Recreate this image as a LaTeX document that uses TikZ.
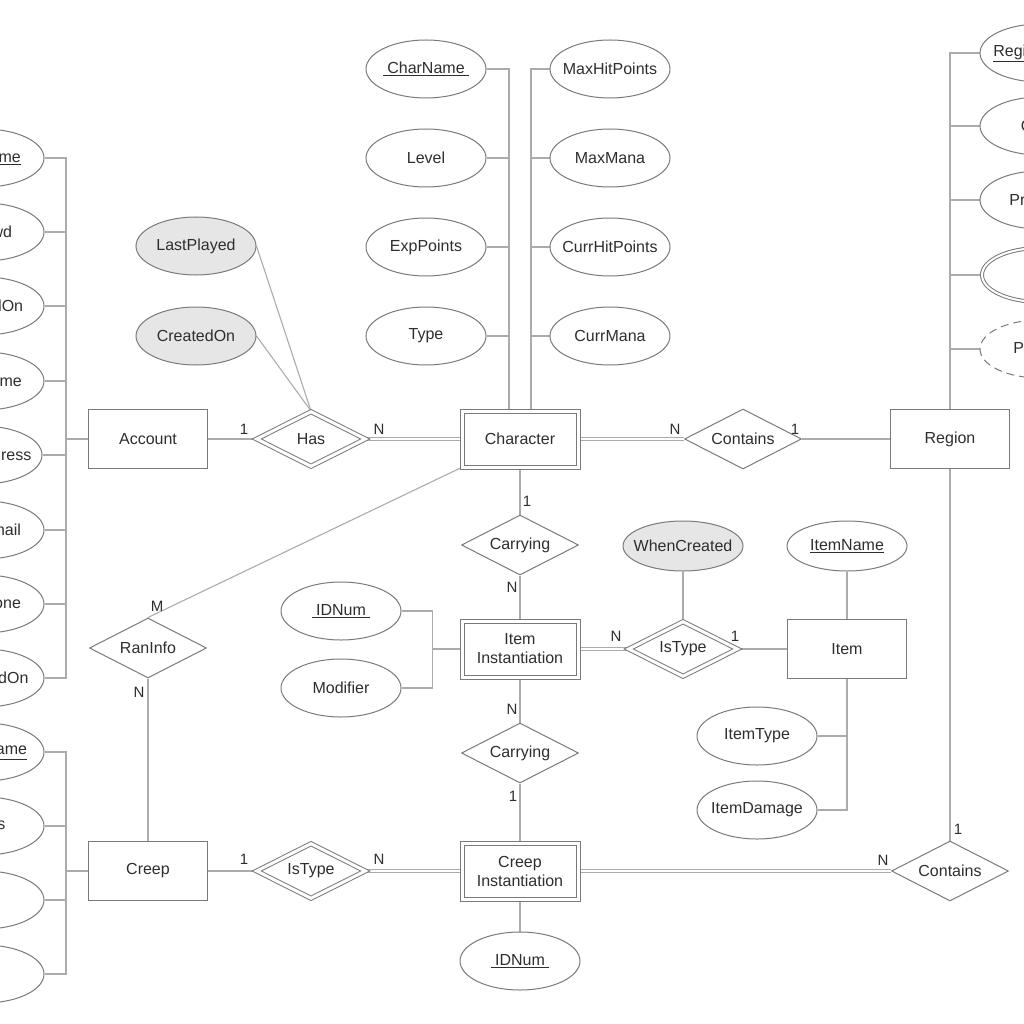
\documentclass[tikz,border=0pt]{standalone}
\usepackage{fontspec}
\setmainfont{Liberation Sans}
\usetikzlibrary{shapes.geometric,backgrounds}
\definecolor{cEdge}{HTML}{7A7A7A}
\definecolor{cLink}{HTML}{ABABAB}
\definecolor{cText}{HTML}{2E2E2E}
\definecolor{cRelAttr}{HTML}{E6E6E6}
\tikzset{
  ent/.style={rectangle, draw=cEdge, fill=white, line width=1pt, text=cText, align=center, minimum width=119pt, minimum height=59pt},
  went/.style={ent, double=white, double distance=3pt, minimum width=116pt, minimum height=56pt},
  rel/.style={diamond, aspect=2, draw=cEdge, fill=white, line width=1pt, text=cText, inner sep=0pt, minimum width=117pt, minimum height=60pt},
  wrel/.style={rel, double=white, double distance=3pt, minimum width=109pt, minimum height=55pt},
  attr/.style={ellipse, draw=cEdge, fill=white, line width=1pt, text=cText, inner xsep=-12pt, inner ysep=0pt, minimum width=120pt, minimum height=58pt},
  rattr/.style={attr, fill=cRelAttr},
  mattr/.style={attr, double=white, double distance=2pt, minimum width=116pt, minimum height=54pt},
  dattr/.style={attr, dashed, dash pattern=on 8pt off 5pt},
  card/.style={text=cText, inner sep=0pt, font=\fontsize{15}{17}\selectfont},
  link/.style={draw=cLink, line width=1.1pt},
  tlink/.style={draw=cLink, line width=1pt, double=white, double distance=2pt},
}
\newcommand{\keyattr}[1]{\underline{#1}}
\newcommand{\pkeyattr}[1]{\underline{\hspace{4pt}#1\hspace{4pt}}}

\begin{document}
\begin{tikzpicture}[x=1pt, y=-1pt, font=\fontsize{16}{19}\selectfont]
  \clip (0,0) rectangle (1024,1024);

  % entities
  \node[ent]  (account)   at (148,439) {Account};
  \node[went] (character) at (520,439) {Character};
  \node[ent]  (region)    at (950,439) {Region};
  \node[went] (iteminst)  at (520,649) {Item\\Instantiation};
  \node[ent]  (item)      at (847,649) {Item};
  \node[went] (creepinst) at (520,871) {Creep\\Instantiation};
  \node[ent]  (creep)     at (148,871) {Creep};

  % relationships
  \node[wrel] (has)       at (311,439) {Has};
  \node[rel]  (containsr) at (743,439) {Contains};
  \node[rel]  (carryi)    at (520,545) {Carrying};
  \node[wrel] (itistype)  at (683,649) {IsType};
  \node[rel]  (carryc)    at (520,753) {Carrying};
  \node[wrel] (cristype)  at (311,871) {IsType};
  \node[rel]  (containsc) at (950,871) {Contains};
  \node[rel]  (raninfo)   at (148,648) {RanInfo};

  % character attributes
  \node[attr] (charname)  at (426,69)  {\pkeyattr{CharName}};
  \node[attr] (level)     at (426,158) {Level};
  \node[attr] (exppoints) at (426,247) {ExpPoints};
  \node[attr] (ctype)     at (426,336) {Type};
  \node[attr] (maxhp)     at (610,69)  {MaxHitPoints};
  \node[attr] (maxmana)   at (610,158) {MaxMana};
  \node[attr] (currhp)    at (610,247) {CurrHitPoints};
  \node[attr] (currmana)  at (610,336) {CurrMana};

  % relationship attributes
  \node[rattr] (lastplayed)  at (196,246) {LastPlayed};
  \node[rattr] (createdon)   at (196,336) {CreatedOn};
  \node[rattr, minimum height=50pt] (whencreated) at (683,546) {WhenCreated};

  % item attributes
  \node[attr, minimum height=50pt] (itemname) at (847,546) {\keyattr{ItemName}};
  \node[attr] (idnum)      at (341,611) {\pkeyattr{IDNum}};
  \node[attr] (modifier)   at (341,688) {Modifier};
  \node[attr] (itemtype)   at (757,736) {ItemType};
  \node[attr] (itemdamage) at (757,810) {ItemDamage};
  \node[attr] (cidnum)     at (520,961) {\pkeyattr{IDNum}};

  % account attributes
  \node[attr] (username)  at (-16,158) {\keyattr{Username}};
  \node[attr] (passwd)    at (-16,232) {Passwd};
  \node[attr] (acreated)  at (-16,306) {CreatedOn};
  \node[attr] (realname)  at (-16,381) {RealName};
  \node[attr] (emailaddr) at (-18,455) {EmailAddress};
  \node[attr] (useremail) at (-16,530) {UserEmail};
  \node[attr] (telephone) at (-16,604) {Telephone};
  \node[attr] (lastused)  at (-16,678) {LastUsedOn};

  % creep attributes
  \node[attr] (creepname) at (-16,752) {\keyattr{CreepName}};
  \node[attr] (drops)     at (-16,826) {Drops};
  \node[attr] (gold)      at (-16,900) {Gold};
  \node[attr] (xp)        at (-16,974) {XP};

  % region attributes
  \node[attr]  (regionname) at (1040,53)  {\keyattr{RegionName}};
  \node[attr]  (rcode)      at (1040,126) {Code};
  \node[attr]  (predator)   at (1040,200) {Predator};
  \node[mattr] (rmap)       at (1040,275) {Map};
  \node[dattr] (players)    at (1040,349) {Players};

  % cardinalities
  \node[card] (hasa)  at (244,429) {1};
  \node[card] (hasc)  at (379,429) {N};
  \node[card] (conc)  at (675,429) {N};
  \node[card] (conr)  at (795,429) {1};
  \node[card] (cric)  at (527,501) {1};
  \node[card] (crii)  at (512,587) {N};
  \node[card] (istii) at (616,636) {N};
  \node[card] (istit) at (735,636) {1};
  \node[card] (crci)  at (512,709) {N};
  \node[card] (crcc)  at (513,796) {1};
  \node[card] (istcc) at (244,859) {1};
  \node[card] (istci) at (379,859) {N};
  \node[card] (concc) at (883,860) {N};
  \node[card] (concr) at (958,829) {1};
  \node[card] (rancm) at (157,606) {M};
  \node[card] (rancn) at (139,692) {N};

  \begin{scope}[on background layer]
    % attribute buses
    \foreach \a in {charname,level,exppoints,ctype}
      \draw[link] (\a.east) -| ([xshift=-11pt]character.north);
    \foreach \a in {maxhp,maxmana,currhp,currmana}
      \draw[link] (\a.west) -| ([xshift=11pt]character.north);
    \foreach \a in {username,passwd,acreated,realname,emailaddr,useremail,telephone,lastused}
      \draw[link] (\a.east) -| ([xshift=-22pt]account.west) -- (account.west);
    \foreach \a in {creepname,drops,gold,xp}
      \draw[link] (\a.east) -| ([xshift=-22pt]creep.west) -- (creep.west);
    \foreach \a in {regionname,rcode,predator,rmap,players}
      \draw[link] (\a.west) -| (region.north);
    \foreach \a in {idnum,modifier}
      \draw[link] (\a.east) -| ([xshift=-29pt]iteminst.west) -- (iteminst.west);
    \foreach \a in {itemtype,itemdamage}
      \draw[link] (\a.east) -| (item.south);
    \draw[link] (itemname) -- (item);
    \draw[link] (creepinst) -- (cidnum);
    \draw[link] (lastplayed.east) -- (has.north);
    \draw[link] (createdon.east) -- (has.north);
    \draw[link] (whencreated) -- (itistype);

    % relationships
    \draw[link]  (account) -- (has);
    \draw[tlink] (has) -- (character);
    \draw[tlink] (character) -- (containsr);
    \draw[link]  (containsr) -- (region);
    \draw[link]  (character) -- (carryi);
    \draw[link]  (carryi) -- (iteminst);
    \draw[tlink] (iteminst) -- (itistype);
    \draw[link]  (itistype) -- (item);
    \draw[link]  (iteminst) -- (carryc);
    \draw[link]  (carryc) -- (creepinst);
    \draw[link]  (creep) -- (cristype);
    \draw[tlink] (cristype) -- (creepinst);
    \draw[tlink] (creepinst) -- (containsc);
    \draw[link]  (region) -- (containsc);
    \draw[link]  (character.south west) -- (raninfo.north);
    \draw[link]  (raninfo) -- (creep);
  \end{scope}
\end{tikzpicture}
\end{document}
